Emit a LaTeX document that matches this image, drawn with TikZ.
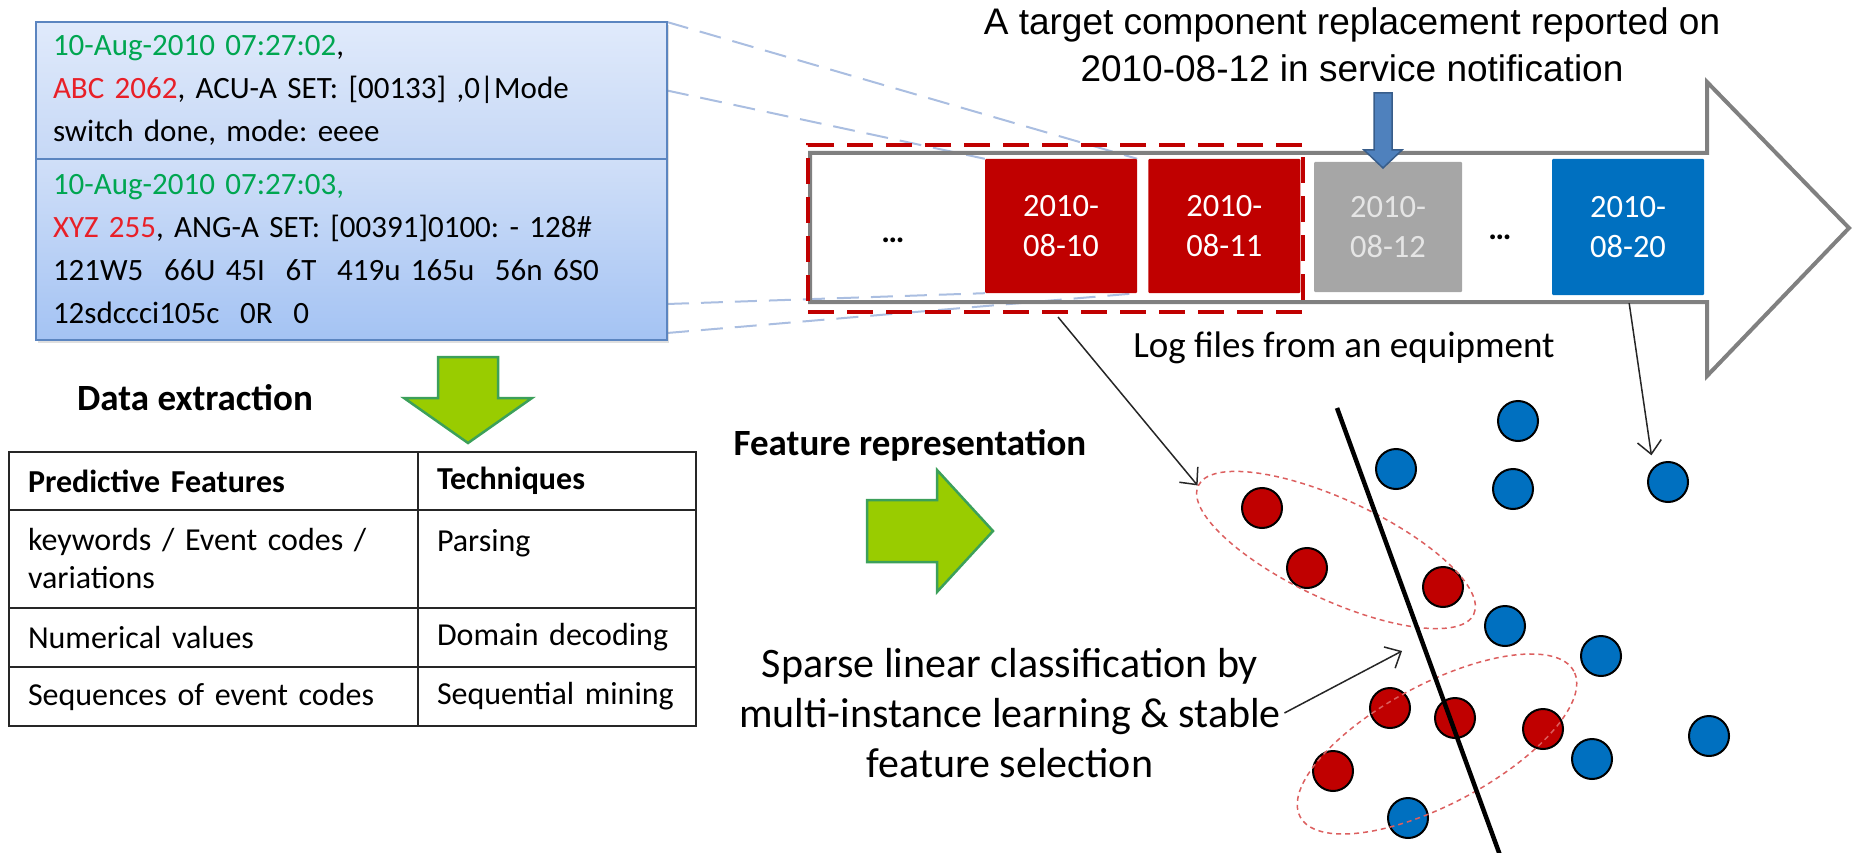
\documentclass[tikz,border=0pt]{standalone}
\usepackage{fontspec}
\setmainfont{Carlito}
\newfontfamily\arialfont{Liberation Sans}
\usetikzlibrary{positioning,shadows,shapes.geometric,arrows.meta,calc,backgrounds}
\frenchspacing

\definecolor{logedge}{RGB}{91,133,192}
\definecolor{logtopA}{RGB}{224,234,251}
\definecolor{logtopB}{RGB}{198,216,246}
\definecolor{logbotA}{RGB}{208,223,248}
\definecolor{logbotB}{RGB}{164,195,243}
\definecolor{loggreen}{RGB}{0,166,81}
\definecolor{logred}{RGB}{232,32,40}
\definecolor{zoomblue}{RGB}{170,190,225}
\definecolor{tlgray}{RGB}{128,128,128}
\definecolor{winred}{RGB}{192,0,0}
\definecolor{dayred}{RGB}{192,0,0}
\definecolor{daygray}{RGB}{166,166,166}
\definecolor{dayblue}{RGB}{0,112,192}
\definecolor{notefill}{RGB}{79,129,189}
\definecolor{noteedge}{RGB}{56,93,138}
\definecolor{limefill}{RGB}{153,204,0}
\definecolor{limeedge}{RGB}{60,160,90}
\definecolor{ptred}{RGB}{192,0,0}
\definecolor{ptblue}{RGB}{0,112,192}
\definecolor{bagred}{RGB}{220,95,95}

\newcommand{\logfont}{\fontsize{31}{43}\selectfont}
\newcommand{\tabfont}{\fontsize{32}{38}\selectfont}
\newcommand{\datefont}{\fontsize{32.5}{40}\selectfont}
\newcommand{\headfont}{\fontsize{37}{44}\selectfont\bfseries}
\newcommand{\capfont}{\fontsize{37}{44}\selectfont}
\newcommand{\titlefont}{\arialfont\fontsize{37}{47}\selectfont}
\newcommand{\notefont}{\fontsize{42}{50}\selectfont}

\begin{document}
\begin{tikzpicture}[
    x=1pt, y=-1pt,
    logbox/.style={rectangle, draw=logedge, line width=2pt, outer sep=0pt, text width=597pt, inner xsep=17pt, align=left, font=\logfont},
    datebox/.style={rectangle, minimum width=152pt, minimum height=134pt, inner sep=0pt, text=white, align=center, font=\datefont, rounded corners=1pt},
    dots/.style={font=\datefont\bfseries, inner sep=0pt},
    win/.style={rectangle, draw=winred, line width=4pt, dash pattern=on 26pt off 13pt, minimum width=495pt, minimum height=167pt},
    zoomline/.style={draw=zoomblue, line width=2pt, dash pattern=on 22pt off 12pt},
    timeline/.style={draw=tlgray, line width=4pt, line join=miter},
    blockarrow/.style={fill=limefill, draw=limeedge, line width=2.5pt, line join=miter},
    cell/.style={rectangle, draw=black!85, line width=2pt, outer sep=0pt, inner xsep=19pt, inner ysep=0pt, align=left, font=\tabfont},
    colA/.style={cell, text width=371pt},
    colB/.style={cell, text width=240pt},
    dot/.style={circle, draw=black, line width=2pt, minimum size=40pt, inner sep=0pt},
    redpt/.style={dot, fill=ptred},
    bluept/.style={dot, fill=ptblue},
    bag/.style={ellipse, draw=bagred, line width=1.5pt, dash pattern=on 5pt off 4pt, inner sep=0pt},
    pointer/.style={draw=black!85, line width=1.5pt, -{Straight Barb[length=13pt,width=24pt]}},
]
\useasboundingbox (0,0) rectangle (1852,853);

% Log entries
\node[logbox, minimum height=137pt, top color=logtopA, bottom color=logtopB,
      drop shadow={opacity=0.25, shadow xshift=2pt, shadow yshift=-3pt}] (entA) at (351.5,90.5) {
    {\color{loggreen}10-Aug-2010 07:27:02},\\
    {\color{logred}ABC 2062}, ACU-A SET: [00133] ,0|Mode\\
    switch done, mode: eeee
};
\node[logbox, minimum height=181pt, top color=logbotA, bottom color=logbotB,
      drop shadow={opacity=0.25, shadow xshift=2pt, shadow yshift=-3pt}, below=0pt of entA] (entB) {
    {\color{loggreen}10-Aug-2010 07:27:03,}\\
    {\color{logred}XYZ 255}, ANG-A SET: [00391]0100: - 128\#\\
    121W5\ \ 66U 45I\ \ 6T\ \ 419u 165u\ \ 56n 6S0\\
    12sdccci105c\ \ 0R\ \ 0
};

% Timeline of daily log files
\draw[timeline] (810,153) -- (1707,153) -- (1707,82) -- (1849,228) -- (1707,376)
    -- (1707,302) -- (810,302) -- cycle;

\node[datebox, fill=dayred] (d10) at (1061,226) {2010-\\08-10};
\node[datebox, fill=dayred, right=11pt of d10] (d11) {2010-\\08-11};
\node[datebox, fill=daygray, text=white!90!black, minimum width=148pt, minimum height=130pt] (d12) at (1388,227) {2010-\\08-12};
\node[datebox, fill=dayblue, minimum height=136pt] (d20) at (1628,227) {2010-\\08-20};

\node[dots] (dotsA) at (893,240) {…};
\node[dots] (dotsB) at (1500,237) {…};

\node[win] (win) at (1055.5,228.5) {};

\begin{pgfonlayer}{background}
\draw[zoomline] (entA.north east) -- (d10.north east);
\draw[zoomline] (entA.east) -- (d10.north west);
\draw[zoomline] ($(entB.south east)+(0,-36)$) -- (d10.south west);
\draw[zoomline] ($(entB.south east)+(0,-7)$) -- (d10.south east);
\end{pgfonlayer}

% Service notification
\node[font=\titlefont, align=center] (title) at (1352,45) {A target component replacement reported on\\2010-08-12 in service notification};
\draw[fill=notefill, draw=noteedge, line width=1.5pt] (1374,93) -- (1392,93) -- (1392,150) -- (1402,150)
    -- (1383,168) -- (1364,150) -- (1374,150) -- cycle;

\node[font=\capfont, anchor=base] (logcap) at (1344,357) {Log files from an equipment};

% Data extraction
\node[font=\headfont] (dataex) at (195,398) {Data extraction};
\draw[blockarrow] (438,357) -- (498,357) -- (498,398) -- (532,398) -- (468,443) -- (404,398) -- (438,398) -- cycle;

\node[colA, minimum height=58pt] (thA) at (213.5,481) {\textbf{Predictive Features}};
\node[colB, minimum height=58pt, right=0pt of thA] (thB) {\textbf{Techniques}};
\node[colA, minimum height=98pt, below=0pt of thA] (kwA) {keywords / Event codes /\\variations};
\node[colB, minimum height=98pt, below=0pt of thB] (kwB) {Parsing\\\phantom{P}};
\node[colA, minimum height=59pt, below=0pt of kwA] (numA) {Numerical values};
\node[colB, minimum height=59pt, below=0pt of kwB] (numB) {Domain decoding};
\node[colA, minimum height=59pt, below=0pt of numA] (seqA) {Sequences of event codes};
\node[colB, minimum height=59pt, below=0pt of numB] (seqB) {Sequential mining};

% Feature representation
\node[font=\headfont] (featrep) at (910,445) {Feature representation};
\draw[blockarrow] (867,500) -- (937,500) -- (937,470) -- (993,531) -- (937,592) -- (937,562) -- (867,562) -- cycle;

% Instances
\node[bluept] (b1) at (1518,421) {};
\node[bluept] (b2) at (1396,469) {};
\node[bluept] (b3) at (1513,489) {};
\node[bluept] (b4) at (1668,482) {};
\node[bluept] (b5) at (1505,626) {};
\node[bluept] (b6) at (1601,656) {};
\node[bluept] (b7) at (1709,736) {};
\node[bluept] (b8) at (1592,759) {};
\node[bluept] (b9) at (1408,818) {};
\node[redpt] (r1) at (1262,508) {};
\node[redpt] (r2) at (1307,568) {};
\node[redpt] (r3) at (1443,587) {};
\node[redpt] (r4) at (1390,708) {};
\node[redpt] (r5) at (1455,718) {};
\node[redpt] (r6) at (1543,729) {};
\node[redpt] (r7) at (1333,771) {};

\node[bag, minimum width=304pt, minimum height=100pt, rotate=-25] (bagA) at (1336,550) {};
\node[bag, minimum width=310pt, minimum height=120pt, rotate=28] (bagB) at (1437,744) {};

\coordinate (sepT) at (1337,408);
\coordinate (sepB) at (1501,858);
\draw[black, line width=4.5pt] (sepT) -- (sepB);

\node[font=\notefont, align=center] (sparse) at (1010,713) {Sparse linear classification by\\multi-instance learning \& stable\\feature selection};
\coordinate (svm) at (1402,651);

% Pointers
\draw[pointer, shorten <=4pt] (win.south) -- (bagA.west);
\draw[pointer, shorten <=8pt, shorten >=12pt] (d20.south) -- (b4.north west);
\draw[pointer] (sparse.east) -- (svm);

\end{tikzpicture}
\end{document}
